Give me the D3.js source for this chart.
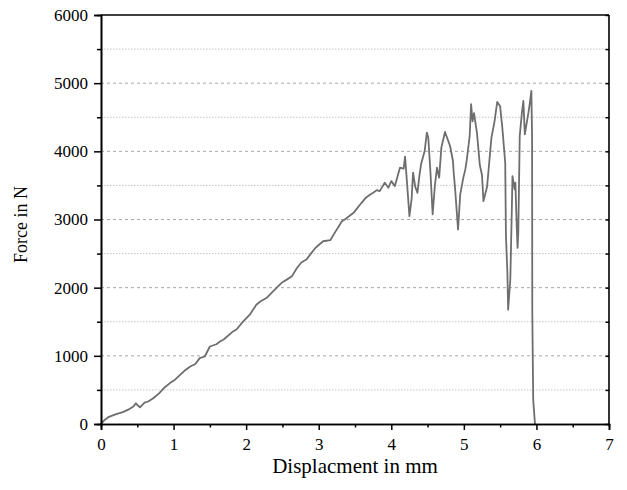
<!DOCTYPE html>
<html>
<head>
<meta charset="utf-8">
<script src="https://cdn.jsdelivr.net/npm/d3@7"></script>
<style>
  body { margin: 0; background: #fff; }
  svg text { font-family: "Liberation Serif", "Times New Roman", serif !important; fill: #000; }
</style>
</head>
<body>
<svg id="chart" width="627" height="490"></svg>
<script>
const displacement = [0,0.05,0.1,0.2,0.3,0.376,0.45,0.48,0.52,0.537,0.6,0.65,0.72,0.8,0.88,0.95,1.02,1.09,1.15,1.23,1.3,1.36,1.43,1.5,1.59,1.64,1.69,1.82,1.87,1.96,2.05,2.14,2.2,2.28,2.35,2.44,2.5,2.56,2.63,2.7,2.76,2.83,2.9,2.96,3.06,3.16,3.22,3.32,3.36,3.48,3.59,3.65,3.71,3.75,3.8,3.84,3.91,3.96,4.0,4.05,4.1,4.12,4.17,4.19,4.22,4.25,4.28,4.3,4.33,4.36,4.39,4.41,4.46,4.49,4.51,4.54,4.57,4.6,4.63,4.66,4.69,4.74,4.81,4.85,4.86,4.88,4.92,4.95,4.99,5.02,5.04,5.08,5.1,5.12,5.14,5.18,5.22,5.25,5.27,5.32,5.38,5.42,5.46,5.5,5.53,5.57,5.58,5.6,5.61,5.64,5.66,5.67,5.7,5.71,5.73,5.74,5.75,5.77,5.8,5.82,5.84,5.89,5.91,5.93,5.94,5.943,5.956,5.98];
const force = [0,60,100,140,175,210,260,304,260,245,313,330,378,450,540,600,650,720,780,843,880,966,990,1137,1170,1211,1240,1358,1390,1505,1603,1750,1800,1848,1922,2019,2080,2118,2166,2289,2370,2412,2510,2590,2681,2696,2804,2975,3000,3098,3245,3320,3368,3392,3431,3416,3539,3466,3563,3490,3686,3760,3745,3922,3490,3049,3300,3686,3480,3392,3662,3809,4005,4275,4201,3686,3074,3490,3760,3613,4054,4284,4078,3858,3686,3441,2853,3368,3600,3735,3870,4225,4691,4440,4560,4275,3800,3650,3270,3480,4200,4420,4725,4660,4348,3833,2754,2216,1676,2118,3098,3637,3441,3539,2853,2583,2804,4225,4569,4740,4250,4569,4716,4887,4225,1630,350,0];
const xTickValues = [0,1,2,3,4,5,6,7];
const yTickValues = [0,1000,2000,3000,4000,5000,6000];
const xMinorTicks = [0.5,1.5,2.5,3.5,4.5,5.5,6.5];
const yMinorTicks = [500,1500,2500,3500,4500,5500];
const xTitle = "Displacment in mm";
const yTitle = "Force in N";

const FONT = "Liberation Serif, Times New Roman, serif";
const svg = d3.select("#chart");
const L = 101, R = 609, T = 15, B = 424;
const x = d3.scaleLinear().domain([0,7]).range([L,R]);
const y = d3.scaleLinear().domain([0,6000]).range([B,T]);

// gridlines
svg.append("g").selectAll("line").data(yMinorTicks).join("line")
  .attr("x1", L).attr("x2", R).attr("y1", d => y(d)).attr("y2", d => y(d))
  .attr("stroke", "#c4c4c4").attr("stroke-width", 1).attr("stroke-dasharray", "1.5,1.5");
svg.append("g").selectAll("line").data(yTickValues.filter(d => d > 0 && d < 6000)).join("line")
  .attr("x1", L).attr("x2", R).attr("y1", d => y(d)).attr("y2", d => y(d))
  .attr("stroke", "#a8a8a8").attr("stroke-width", 1).attr("stroke-dasharray", "3,3");

// data line
const pts = displacement.map((d,i) => [d, force[i]]);
svg.append("path").datum(pts)
  .attr("fill", "none").attr("stroke", "#6e6e6e").attr("stroke-width", 1.8)
  .attr("stroke-linejoin", "round")
  .attr("d", d3.line().x(d => x(d[0])).y(d => y(d[1])));

// axes
const fs = "17px";
const xAxis = svg.append("g").attr("transform", `translate(0,${B})`)
  .call(d3.axisBottom(x).tickValues(xTickValues).tickFormat(d3.format("d")).tickSize(6).tickPadding(8));
const xMinor = svg.append("g").attr("transform", `translate(0,${B})`)
  .call(d3.axisBottom(x).tickValues(xMinorTicks).tickSize(3.5).tickFormat(""));
const yAxis = svg.append("g").attr("transform", `translate(${L},0)`)
  .call(d3.axisLeft(y).tickValues(yTickValues).tickFormat(d3.format("d")).tickSize(7).tickPadding(6));
const yMinor = svg.append("g").attr("transform", `translate(${L},0)`)
  .call(d3.axisLeft(y).tickValues(yMinorTicks).tickSize(4).tickFormat(""));
const rAxis = svg.append("g").attr("transform", `translate(${R},0)`)
  .call(d3.axisLeft(y).tickValues(yTickValues.concat(yMinorTicks)).tickSize(3.5).tickFormat(""));

[xAxis, xMinor, yAxis, yMinor, rAxis].forEach(g => {
  g.attr("font-family", FONT).attr("font-size", fs);
  g.select(".domain").attr("stroke", "#000").attr("stroke-width", 1.6);
  g.selectAll(".tick line").attr("stroke", "#000").attr("stroke-width", 1.5);
  g.selectAll("text").attr("font-family", FONT).attr("font-size", fs).attr("fill", "#000");
});
rAxis.select(".domain").remove();
rAxis.append("line").attr("x1",0).attr("x2",0).attr("y1",T).attr("y2",B).attr("stroke","#000").attr("stroke-width",1.6);
svg.append("line").attr("x1",L).attr("x2",R).attr("y1",T).attr("y2",T).attr("stroke","#000").attr("stroke-width",1.6);

// titles
svg.append("text").attr("x", 355).attr("y", 473).attr("font-family", FONT)
  .attr("text-anchor", "middle").attr("font-size", "21px").text(xTitle);
svg.append("text").attr("transform", `translate(27,${(T+B)/2 + 5}) rotate(-90)`).attr("font-family", FONT)
  .attr("text-anchor", "middle").attr("font-size", "18px").text(yTitle);
</script>
</body>
</html>
